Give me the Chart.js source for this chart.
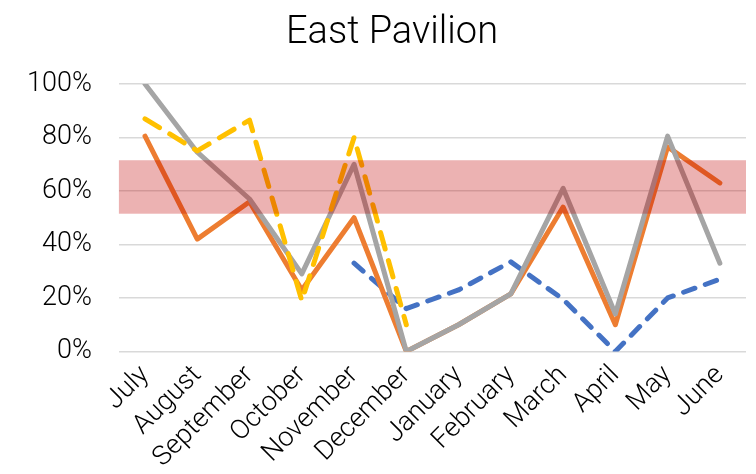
<!DOCTYPE html>
<html>
<head>
<meta charset="utf-8">
<script src="https://cdn.jsdelivr.net/npm/chart.js@4"></script>
<style>
html,body{margin:0;padding:0;background:#fff;}
#wrap{position:relative;width:756px;height:474px;}
#title{position:absolute;left:28px;top:7px;width:728px;text-align:center;font-family:Roboto,sans-serif;font-weight:300;font-size:38px;line-height:46px;color:#000;}
canvas{position:absolute;left:0;top:0;}
</style>
</head>
<body>
<div id="wrap"><canvas id="c" width="756" height="474"></canvas><div id="title">East Pavilion</div></div>
<script>
const categories = ["July","August","September","October","November","December","January","February","March","April","May","June"];
const orangeSeries = [80.5, 42, 56, 23, 50, 0, 10, 21.5, 54, 10, 76.5, 63];
const graySeries   = [100, 74.5, 57, 29, 70, 0, 10, 21.5, 61, 14, 80.5, 33];
const yellowSeries = [87, 75, 86.5, 19, 80, 10, null, null, null, null, null, null];
const blueSeries   = [null, null, null, null, 33, 16, 23, 33.5, 19.5, 0, 20, 27];
const yTicks = [0, 20, 40, 60, 80, 100];
const bandRange = [51.5, 71.5];

const bandPlugin = {
  id: 'band',
  afterDatasetsDraw(chart) {
    const {ctx, chartArea, scales} = chart;
    const yTop = scales.y.getPixelForValue(bandRange[1]);
    const yBot = scales.y.getPixelForValue(bandRange[0]);
    ctx.save();
    ctx.fillStyle = 'rgba(192,0,0,0.3)';
    ctx.fillRect(chartArea.left, yTop, chartArea.right - chartArea.left, yBot - yTop);
    ctx.restore();
  }
};

const common = {pointRadius: 0, borderWidth: 5, tension: 0, fill: false, borderCapStyle: 'round', borderJoinStyle: 'round', spanGaps: false};

new Chart(document.getElementById('c'), {
  type: 'line',
  data: {
    labels: categories,
    datasets: [
      Object.assign({label: 'Yellow', data: yellowSeries, borderColor: '#FFC000', borderDash: [17, 12]}, common),
      Object.assign({label: 'Gray', data: graySeries, borderColor: '#A5A5A5'}, common),
      Object.assign({label: 'Orange', data: orangeSeries, borderColor: '#ED7D31'}, common),
      Object.assign({label: 'Blue', data: blueSeries, borderColor: '#4472C4', borderDash: [12, 11]}, common)
    ]
  },
  options: {
    responsive: false,
    animation: false,
    devicePixelRatio: 1,
    layout: {padding: {left: 0, right: 10, top: 84, bottom: 0}},
    plugins: {
      legend: {display: false},
      tooltip: {enabled: false},
      title: {display: false}
    },
    scales: {
      x: {
        offset: true,
        grid: {display: false},
        border: {display: false},
        ticks: {
          color: '#000',
          font: {family: 'Roboto', weight: '300', size: 27},
          maxRotation: 45, minRotation: 45,
          padding: 0
        }
      },
      y: {
        min: 0, max: 100,
        afterBuildTicks(axis) { axis.ticks = yTicks.map(v => ({value: v})); },
        grid: {color: '#D9D9D9', lineWidth: 1.5, drawTicks: false},
        border: {display: false},
        ticks: {
          color: '#000',
          font: {family: 'Roboto', weight: '300', size: 27},
          padding: 27,
          callback: v => v + '%'
        }
      }
    }
  },
  plugins: [bandPlugin]
});
</script>
</body>
</html>
